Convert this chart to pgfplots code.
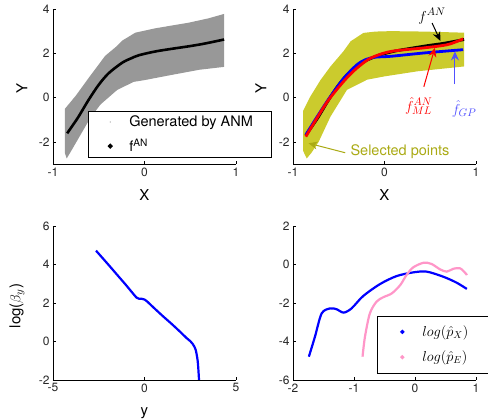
\documentclass[border=0pt]{standalone}
\usepackage{fontspec}
\setmainfont{TeX Gyre Heros}
\usepackage{pgfplots}
\pgfplotsset{compat=1.18}
\usetikzlibrary{arrows.meta}
\definecolor{scgray}{RGB}{152,152,152}
\definecolor{scolive}{RGB}{203,203,45}
\definecolor{txolive}{RGB}{170,170,20}
\definecolor{pinkc}{RGB}{255,150,200}
\definecolor{gpblue}{RGB}{80,80,255}
\pgfplotsset{
  mlax/.style={
    scale only axis, width=183pt, height=154.5pt,
    anchor=south west,
    axis lines=left, axis line style={-, black, line width=0.6pt},
    tick align=inside, major tick length=3pt,
    tick style={black, line width=0.6pt},
    ticklabel style={font=\fontsize{12}{13}\selectfont, color=black!85},
    /pgf/number format/assume math mode=true,
    label style={font=\fontsize{15}{17}\selectfont},
  },
}
\begin{document}
\begin{tikzpicture}
\useasboundingbox (0,0) rectangle (488pt,420pt);

% top left
\begin{axis}[
  mlax, at={(53pt,256pt)},
  xmin=-1, xmax=1, ymin=-3, ymax=4,
  xtick={-1,0,1}, ytick={-2,0,2,4},
  xlabel={X}, ylabel={Y},
  xlabel style={at={(axis description cs:0.5,-0.2)}, anchor=center},
  ylabel style={at={(axis description cs:-0.17,0.49)}, anchor=center},
  legend style={at={(axis description cs:0.191,0.343)}, anchor=north west,
    draw=black, line width=0.6pt, fill=white,
    font=\fontsize{14.5}{16}\selectfont, legend cell align=left,
    inner xsep=4pt, inner ysep=2.5pt, row sep=7pt, nodes={inner sep=2pt}},
]
\addplot[fill=scgray, draw=none,
  legend image code/.code={\path[draw=none,fill=none] (0,0) -- (35pt,0); \fill[scgray] (18pt,0) circle (0.6pt);}]
  coordinates {(-0.87,-0.5) (-0.75,0.1) (-0.61,0.9) (-0.43,1.9) (-0.3,2.35) (-0.24,2.6)
  (-0.1,2.95) (0.12,3.15) (0.48,3.4) (0.7,3.6) (0.87,3.8)
  (0.87,1.4) (0.6,1.27) (0.25,1.0) (0,0.8) (-0.12,0.72) (-0.3,0.35) (-0.48,-0.3)
  (-0.59,-0.9) (-0.73,-1.9) (-0.8,-2.4) (-0.85,-2.75) (-0.87,-2.5)} -- cycle;
\addlegendentry{Generated by ANM\hspace*{12pt}}
\addplot[black, line width=2.6pt, smooth,
  legend image code/.code={\path[draw=none,fill=none] (0,0) -- (35pt,0); \fill[black] (18pt,0) circle (0.9pt);}]
  coordinates {(-0.845,-1.61) (-0.78,-1.22) (-0.72,-0.85) (-0.61,-0.09) (-0.5,0.59)
  (-0.39,1.12) (-0.24,1.6) (-0.15,1.78) (-0.06,1.93) (0.12,2.1) (0.3,2.22) (0.48,2.33)
  (0.65,2.45) (0.87,2.64)};
\addlegendentry{f\textsuperscript{AN}}
\end{axis}

% top right
\begin{axis}[
  mlax, at={(293pt,256pt)},
  xmin=-1, xmax=1, ymin=-3, ymax=4,
  xtick={-1,0,1}, ytick={-2,0,2,4},
  xlabel={X}, ylabel={Y},
  xlabel style={at={(axis description cs:0.5,-0.2)}, anchor=center},
  ylabel style={at={(axis description cs:-0.175,0.49)}, anchor=center},
  clip=false,
]
\addplot[fill=scolive, draw=none]
  coordinates {(-0.89,-0.6) (-0.81,0.06) (-0.7,0.8) (-0.59,1.42) (-0.45,2.1) (-0.37,2.56)
  (-0.23,2.94) (-0.1,3.0) (0.07,3.02) (0.43,3.0) (0.87,2.95)
  (0.87,1.42) (0.36,1.2) (0,0.97) (-0.19,0.82) (-0.41,0.36) (-0.59,-0.85) (-0.72,-2.0)
  (-0.8,-2.5) (-0.85,-2.75) (-0.89,-2.4)} -- cycle;
\addplot[black, line width=2.8pt, smooth]
  coordinates {(-0.86,-1.7) (-0.78,-1.22) (-0.72,-0.85) (-0.61,-0.09) (-0.5,0.59)
  (-0.39,1.12) (-0.24,1.6) (-0.15,1.78) (-0.06,1.93) (0.12,2.12) (0.3,2.25) (0.48,2.37)
  (0.65,2.47) (0.87,2.64)};
\addplot[blue, line width=2.8pt, smooth]
  coordinates {(-0.86,-1.68) (-0.75,-0.95) (-0.61,-0.06) (-0.45,0.86) (-0.3,1.5)
  (-0.2,1.74) (-0.1,1.84) (0.07,1.88) (0.43,2.03) (0.86,2.18)};
\addplot[red, line width=2.8pt, smooth]
  coordinates {(-0.86,-1.76) (-0.75,-1.0) (-0.61,-0.09) (-0.43,0.82) (-0.3,1.35)
  (-0.15,1.8) (0.07,2.1) (0.43,2.26) (0.69,2.41) (0.86,2.67)};
\node[font=\fontsize{15}{17}\selectfont] at (axis cs:0.52,3.7) {$f^{AN}$};
\draw[black, line width=1pt, -{Stealth[length=9pt,width=8pt]}] (axis cs:0.52,3.39) -- (axis cs:0.61,2.58);
\node[red, font=\fontsize{15}{17}\selectfont] at (axis cs:0.375,-0.38) {$\hat{f}^{AN}_{ML}$};
\draw[red, line width=1pt, -{Stealth[length=9pt,width=8pt]}] (axis cs:0.43,0.5) -- (axis cs:0.55,2.26);
\node[gpblue, font=\fontsize{15}{17}\selectfont] at (axis cs:0.87,-0.5) {$\hat{f}_{GP}$};
\draw[gpblue, line width=1pt, -{Stealth[length=9pt,width=8pt]}] (axis cs:0.77,0.62) -- (axis cs:0.77,2.1);
\node[txolive, anchor=west, font=\fontsize{14.5}{16}\selectfont] at (axis cs:-0.41,-2.44) {Selected points};
\draw[txolive, line width=1pt, -{Stealth[length=9pt,width=8pt]}] (axis cs:-0.43,-2.49) -- (axis cs:-0.83,-2.06);
\end{axis}

% bottom left
\begin{axis}[
  mlax, at={(53pt,40pt)}, height=154pt,
  xmin=-5, xmax=5, ymin=-2, ymax=6,
  xtick={-5,0,5}, ytick={-2,0,2,4,6},
  xlabel={y}, ylabel={log($\beta_y$)},
  xlabel style={at={(axis description cs:0.5,-0.215)}, anchor=center},
  ylabel style={at={(axis description cs:-0.197,0.48)}, anchor=center},
]
\addplot[blue, line width=2.2pt, smooth]
  coordinates {(-2.65,4.72) (-2.0,4.02) (-1.5,3.47) (-1.0,2.92) (-0.6,2.46) (-0.43,2.28)
  (-0.3,2.22) (-0.15,2.22) (0,2.18) (0.12,2.1) (0.5,1.76) (1.0,1.32) (1.5,0.9) (1.94,0.51)
  (2.31,0.17) (2.5,0.02) (2.63,-0.12) (2.72,-0.26) (2.81,-0.48) (2.9,-0.96) (2.94,-1.4) (2.98,-2.0)};
\end{axis}

% bottom right
\begin{axis}[
  mlax, at={(293pt,40pt)}, height=154pt,
  xmin=-2, xmax=1, ymin=-6, ymax=2,
  xtick={-2,-1,0,1}, ytick={-6,-4,-2,0,2},
  legend style={at={(axis description cs:0.459,0.416)}, anchor=north west,
    draw=black, line width=0.6pt, fill=white,
    font=\fontsize{14}{16}\selectfont, legend cell align=left,
    inner xsep=4pt, inner ysep=7.5pt, row sep=9pt, nodes={inner sep=2pt}},
]
\addplot[blue, line width=2.2pt, smooth,
  legend image code/.code={\path[draw=none,fill=none] (0,0) -- (39pt,0); \fill[blue] (21pt,0) circle (0.8pt);}]
  coordinates {(-1.74,-4.79) (-1.64,-3.75) (-1.53,-2.54) (-1.39,-2.28) (-1.28,-2.33)
  (-1.17,-2.5) (-1.04,-2.28) (-0.85,-1.64) (-0.57,-1.01) (-0.30,-0.60) (-0.03,-0.41)
  (0.19,-0.37) (0.46,-0.63) (0.68,-0.94) (0.85,-1.27)};
\addlegendentry{$log(\hat{p}_X)$\hspace*{18pt}}
\addplot[pinkc, line width=2.2pt, smooth,
  legend image code/.code={\path[draw=none,fill=none] (0,0) -- (39pt,0); \fill[pinkc] (21pt,0) circle (0.8pt);}]
  coordinates {(-0.86,-4.79) (-0.82,-3.75) (-0.74,-2.54) (-0.63,-1.93) (-0.52,-1.70)
  (-0.38,-1.50) (-0.24,-1.06) (-0.14,-0.55) (-0.03,-0.15) (0.14,0.09) (0.27,0.03)
  (0.41,-0.25) (0.52,-0.37) (0.63,-0.22) (0.74,-0.20) (0.83,-0.46) (0.85,-0.55)};
\addlegendentry{$log(\hat{p}_E)$}
\end{axis}
\end{tikzpicture}
\end{document}
